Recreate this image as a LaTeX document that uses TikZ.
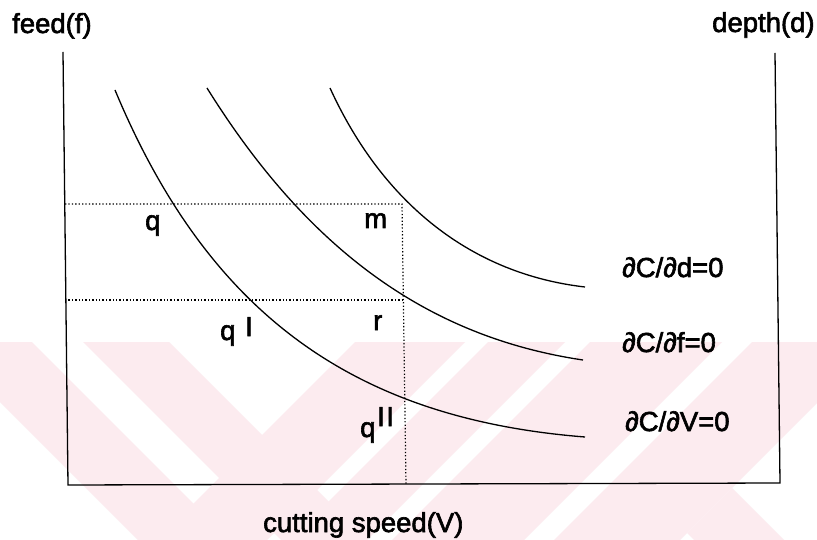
\documentclass[tikz,border=0pt]{standalone}
\usepackage{fontspec}
\setmainfont{Liberation Sans}[BoldFont={Liberation Sans},BoldFeatures={FakeBold=2.2}]
\definecolor{wm}{RGB}{252,235,239}
\begin{document}
\begin{tikzpicture}[x=1bp,y=-1bp,
  axis/.style={line width=1.3bp},
  curve/.style={line width=1.3bp},
  guide/.style={line width=1.2bp, dash pattern=on 1.3bp off 2.1bp},
  lbl/.style={inner sep=0pt, anchor=base west, font=\fontsize{27.5bp}{33bp}\selectfont\bfseries}]
\useasboundingbox (0,0) rectangle (817,540);
\fill[white] (0,0) rectangle (817,540);
% faint watermark
\begin{scope}
\clip (0,342) rectangle (817,540);
\fill[wm] (-60,342) -- (32,342) -- (230,540) -- (138,540) -- cycle;
\fill[wm] (83,342) -- (169,342) -- (367,540) -- (281,540) -- cycle;
\fill[wm] (355,342) -- (465,342) -- (267,540) -- (157,540) -- cycle;
\fill[wm] (488,342) -- (565,342) -- (367,540) -- (290,540) -- cycle;
\fill[wm] (590,342) -- (722,342) -- (524,540) -- (392,540) -- cycle;
\fill[wm] (752,342) -- (878,342) -- (680,540) -- (554,540) -- cycle;
\fill[wm] (732,488) -- (784,540) -- (694,540) -- (687,533) -- cycle;
\end{scope}
% frame
\coordinate (tl) at (63,52);
\coordinate (bl) at (68,485);
\coordinate (br) at (780,483);
\coordinate (tr) at (775,53);
\draw[axis] (tl) -- (bl) -- (br) -- (tr);
% guides
\coordinate (u0) at (65,204);
\coordinate (u1) at (402,204);
\coordinate (l0) at (65,300);
\coordinate (l1) at (402,300);
\coordinate (v1) at (406,485);
\draw[guide] (u0) -- (u1) -- (v1);
\draw[guide] (l0) -- (l1);
% curves
\coordinate (c1s) at (115,90);  \coordinate (c1e) at (585,437);
\coordinate (c2s) at (207,88);  \coordinate (c2e) at (583,360);
\coordinate (c3s) at (330,88);  \coordinate (c3e) at (585,287);
\draw[curve] (c1s) .. controls (210,318) and (358,419) .. (c1e);
\draw[curve] (c2s) .. controls (308,250) and (428,337) .. (c2e);
\draw[curve] (c3s) .. controls (383,204) and (472,274) .. (c3e);
% labels
\node[lbl] (feed) at (12,33) {feed(f)};
\node[lbl] (depth) at (712,32) {depth(d)};
\node[lbl] (speed) at (263,532) {cutting speed(V)};
\node[lbl] (cd) at (622,277) {∂C/∂d=0};
\node[lbl] (cf) at (622,352) {∂C/∂f=0};
\node[lbl] (cv) at (625,431) {∂C/∂V=0};
\node[lbl] (q) at (145,230) {q};
\node[lbl] (m) at (364,228) {m};
\node[lbl] (q1) at (220,340) {q};
\node[lbl] (q1s) at (245,336) {I};
\node[lbl] (r) at (373,330) {r};
\node[lbl] (q2) at (360,437) {q};
\node[lbl] (q2s) at (377,426) {I\kern1.5bp I};
\end{tikzpicture}
\end{document}
